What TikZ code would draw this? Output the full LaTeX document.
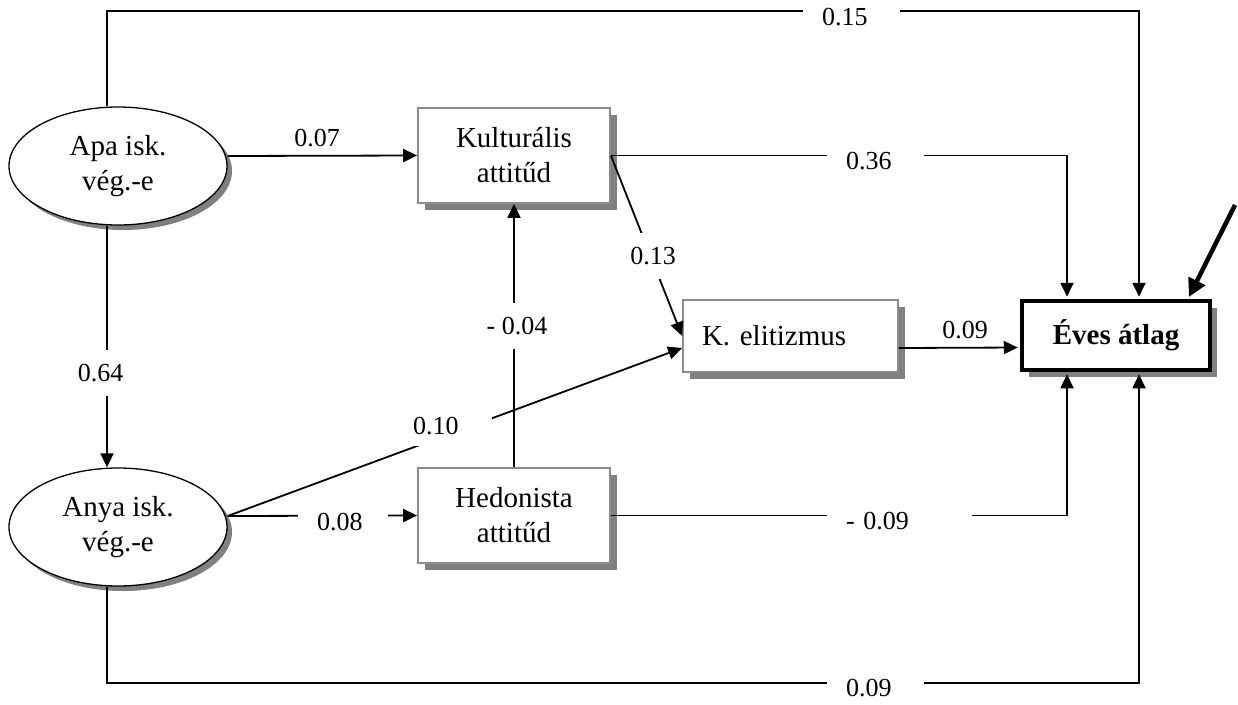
\documentclass[tikz,border=0pt]{standalone}
\usepackage{fontspec}
\setmainfont{Liberation Serif}
\usetikzlibrary{shapes.geometric,shadows,arrows.meta}
\tikzstyle{latent}=[ellipse, draw=black, line width=1.3pt, fill=white, minimum width=218pt, minimum height=118pt, inner sep=0pt, align=center, font=\fontsize{29}{35}\selectfont, drop shadow={shadow xshift=5pt, shadow yshift=-5pt, fill=black!50, opacity=1}]
\tikzstyle{observed}=[rectangle, draw=black!45, line width=1.8pt, fill=white, minimum width=192pt, minimum height=95pt, inner sep=0pt, align=center, font=\fontsize{29}{35}\selectfont, drop shadow={shadow xshift=7pt, shadow yshift=-7pt, fill=black!50, opacity=1}]
\tikzstyle{outcome}=[observed, draw=black, line width=4.5pt, minimum width=188pt, minimum height=69pt, font=\fontsize{29}{35}\selectfont\bfseries]
\tikzstyle{link}=[line width=1.8pt, -{Triangle[length=14pt, width=13pt]}]
\tikzstyle{num}=[font=\fontsize{26}{30}\selectfont, text height=17.6pt, text depth=0pt, inner sep=0pt]
\tikzstyle{coef}=[num, fill=white, inner xsep=19pt, inner ysep=4pt, text width=59pt, align=left]
\tikzstyle{vcoef}=[num, fill=white, inner xsep=3pt, inner ysep=14pt]

\begin{document}
\begin{tikzpicture}[x=1pt, y=-1pt]
    \useasboundingbox (0,0) rectangle (1238,704);

    \node (Apa) at (118,166) [latent] {Apa isk.\\vég.-e};
    \node (Anya) at (118,527) [latent] {Anya isk.\\vég.-e};
    \node (Kul) at (514,155.5) [observed] {Kulturális\\attitűd};
    \node (Hed) at (514,515.5) [observed] {Hedonista\\attitűd};
    \node (Kel) at (790.5,336) [observed, minimum width=215pt, minimum height=72pt, text width=177pt, inner xsep=19pt, align=left] {K. elitizmus};
    \node (Eves) at (1116,335.5) [outcome] {Éves átlag};
    \coordinate (err) at (1235,205);

    \draw ([xshift=-11pt]Apa.north) -- ++(0,-95) -| ([xshift=23pt]Eves.north) [link, shorten >=2pt];
    \draw ([yshift=10pt]Apa.east) -- (Kul.west) [link];
    \draw ([xshift=-11pt]Apa.south) -- ([xshift=-11pt]Anya.north) [link];

    \draw (Kul.east) -| ([xshift=-49pt]Eves.north) [link, shorten >=2pt];
    \draw (Kul.east) -- (Kel.west) [link];

    \draw (Hed.north) -- (Kul.south) [link];
    \draw (Hed.east) -| ([xshift=-49pt]Eves.south) [link, shorten >=2pt];

    \draw ([yshift=11pt]Anya.east) -- ([yshift=-12pt]Kel.west) [link];
    \draw ([yshift=11pt]Anya.east) -- (Hed.west) [link];
    \draw ([xshift=-11pt]Anya.south) -- ++(0,96) -| ([xshift=23pt]Eves.south) [link, shorten >=2pt];

    \draw ([yshift=-12pt]Kel.east) -- ([yshift=-12pt]Eves.west) [link, shorten >=2pt];

    \draw (err) -- ([xshift=72pt]Eves.north) [line width=4.5pt, -{Triangle[length=18pt, width=18pt]}, shorten >=2pt];

    \node (l015) at (851.5,17) [coef] {0.15};
    \node (l036) at (875.5,161) [coef] {0.36};
    \node (l007) at (317,138) [num] {0.07};
    \node (l013) at (653,256) [vcoef] {0.13};
    \node (l004) at (517,326) [vcoef] {- 0.04};
    \node (l064) at (100.5,373) [vcoef] {0.64};
    \node (l010) at (448.5,426) [num, fill=white, inner xsep=8pt, inner ysep=11pt, text width=71pt, align=left] {0.10};
    \node (l008) at (343,522) [coef, text width=52pt] {0.08};
    \node (l009k) at (965,330) [num] {0.09};
    \node (l009h) at (899.5,521) [coef, text width=107pt] {- 0.09};
    \node (l009a) at (875.5,688) [coef] {0.09};
\end{tikzpicture}
\end{document}
